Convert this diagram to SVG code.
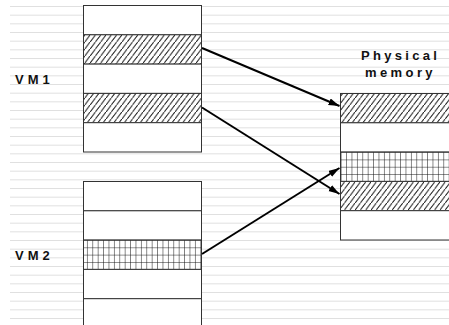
<svg xmlns="http://www.w3.org/2000/svg" width="449" height="325" viewBox="0 0 449 325">
<style>
.bg{stroke:#e0e0e0;stroke-width:1}
.cell{fill:#fff;stroke:#333;stroke-width:1}
.hatch{fill:url(#hatch);stroke:#333;stroke-width:1}
.grid{fill:url(#grid);stroke:#333;stroke-width:1}
.lbl{font-family:"Liberation Sans",Arial,sans-serif;font-weight:bold;font-size:13px;fill:#111}
.conn{stroke:#000;stroke-width:2;fill:none;marker-end:url(#arr)}
</style>
<defs>
<pattern id="hatch" patternUnits="userSpaceOnUse" width="5.3" height="7">
<rect width="5.3" height="7" fill="#fff"/>
<path d="M-1.325,8.75 L6.625,-1.75" stroke="#111" stroke-width="1"/>
</pattern>
<pattern id="grid" patternUnits="userSpaceOnUse" x="0.5" y="152.1" width="5.4" height="7.325">
<rect width="5.4" height="7.325" fill="#fff"/>
<path d="M0,0 V7.325 M0,0 H5.4" stroke="#111" stroke-width="1"/>
</pattern>
<marker id="arr" markerUnits="userSpaceOnUse" markerWidth="12" markerHeight="8" refX="11" refY="3.5" orient="auto">
<path d="M0,0 L11,3.5 L0,7 z" fill="#000"/>
</marker>
</defs>
<rect width="449" height="325" fill="#fff"/>
<g id="background">
<path class="bg" d="M10,6.5H449 M10,15.17H449 M10,23.83H449 M10,32.5H449 M10,41.17H449 M10,49.83H449 M10,58.5H449 M10,67.17H449 M10,75.83H449 M10,84.5H449 M10,93.17H449 M10,101.83H449 M10,110.5H449 M10,119.17H449 M10,127.83H449 M10,136.5H449 M10,145.17H449 M10,153.83H449 M10,162.5H449 M10,171.17H449 M10,179.83H449 M10,188.5H449 M10,197.17H449 M10,205.83H449 M10,214.5H449 M10,223.17H449 M10,231.83H449 M10,240.5H449 M10,249.17H449 M10,257.83H449 M10,266.5H449 M10,275.17H449 M10,283.83H449 M10,292.5H449 M10,301.17H449 M10,309.83H449 M10,318.5H449"/>
</g>
<g id="vm1">
<rect class="cell" x="83.5" y="5.5" width="118" height="29.3"/>
<rect class="hatch" x="83.5" y="34.8" width="118" height="29.3"/>
<rect class="cell" x="83.5" y="64.1" width="118" height="29.3"/>
<rect class="hatch" x="83.5" y="93.4" width="118" height="29.3"/>
<rect class="cell" x="83.5" y="122.7" width="118" height="29.3"/>
<text class="lbl" x="15" y="84" letter-spacing="4">VM1</text>
</g>
<g id="vm2">
<rect class="cell" x="83.5" y="181.5" width="118" height="29.3"/>
<rect class="cell" x="83.5" y="210.8" width="118" height="29.3"/>
<rect class="grid" x="83.5" y="240.1" width="118" height="29.3"/>
<rect class="cell" x="83.5" y="269.4" width="118" height="29.3"/>
<rect class="cell" x="83.5" y="298.7" width="118" height="29.3"/>
<text class="lbl" x="15" y="259.5" letter-spacing="4">VM2</text>
</g>
<g id="physical">
<rect class="hatch" x="340.5" y="93.5" width="120" height="29.3"/>
<rect class="cell" x="340.5" y="122.8" width="120" height="29.3"/>
<rect class="grid" x="340.5" y="152.1" width="120" height="29.3"/>
<rect class="hatch" x="340.5" y="181.4" width="120" height="29.3"/>
<rect class="cell" x="340.5" y="210.7" width="120" height="29.3"/>
<text class="lbl" x="361" y="59.5" letter-spacing="3.3">Physical</text>
<text class="lbl" x="365" y="76.5" letter-spacing="3.4">memory</text>
</g>
<g id="connectors">
<line class="conn" x1="202" y1="48" x2="339.5" y2="106"/>
<line class="conn" x1="202" y1="107.5" x2="339.5" y2="194"/>
<line class="conn" x1="202" y1="254" x2="339.5" y2="168"/>
</g>
</svg>
